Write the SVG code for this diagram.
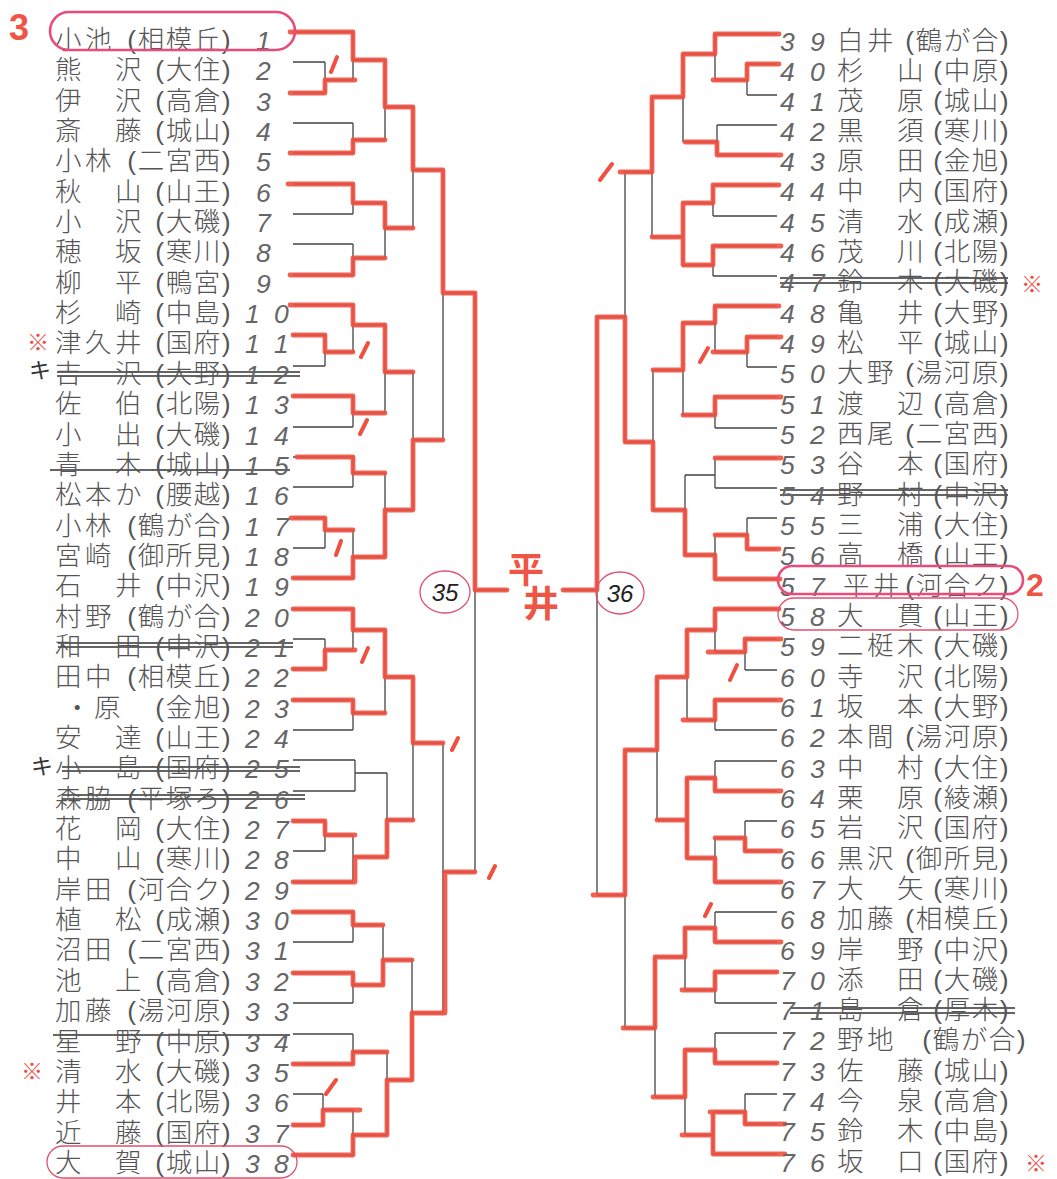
<svg xmlns="http://www.w3.org/2000/svg" width="1057" height="1179" viewBox="0 0 1057 1179">
<style>
.nm{font-family:"Liberation Sans","Noto Sans CJK JP","Noto Sans CJK SC",sans-serif;font-size:26.5px;font-weight:300;fill:#555;letter-spacing:3.5px}
.sc{font-family:"Liberation Sans","Noto Sans CJK JP","Noto Sans CJK SC",sans-serif;font-size:26.5px;font-weight:300;fill:#555;letter-spacing:1.5px;text-anchor:end}
.num{font-family:"Liberation Sans",sans-serif;font-style:italic;font-size:26.5px;fill:#666}
.blk{fill:none;stroke:#444;stroke-width:1.3}
.red{fill:none;stroke:#ef5040;stroke-width:4.8;stroke-linejoin:round;stroke-linecap:round;opacity:0.9}
.tick{fill:none;stroke:#ef5040;stroke-width:4;stroke-linecap:round}
.strike{stroke:#333;stroke-width:1.4}
.ring{fill:none;stroke:#e94b7b;stroke-width:2.6}
.ring2{fill:none;stroke:#e0506e;stroke-width:1.3}
.kome{font-family:"Liberation Sans","Noto Sans CJK JP",sans-serif;font-size:22px;fill:#ee4b3f;text-anchor:middle}
.ki{font-family:"Liberation Sans","Noto Sans CJK JP",sans-serif;font-size:22px;fill:#333;text-anchor:middle}
.hand{font-family:"Liberation Sans","Noto Sans CJK JP",sans-serif;font-weight:bold;fill:#ef5545}
.circ{font-family:"Liberation Sans",sans-serif;font-style:italic;font-size:24px;fill:#222;text-anchor:middle}
</style>
<rect width="1057" height="1179" fill="#fff"/>

<g id="connectors">
<path class="blk" d="M293 32H353M293 62H325M293 93H325M293 123H353M293 153H353M293 184H353M293 214H353M293 244H353M293 275H353M293 305H353M293 335H325M293 366H325M293 396H353M293 427H353M293 457H353M293 487H353M293 518H325M293 548H325M293 578H353M293 609H353M293 639H325M293 669H325M293 700H353M293 730H353M293 760H355M293 791H355M293 821H325M293 851H325M293 882H353M293 912H353M293 942H353M293 973H353M293 1003H353M293 1034H353M293 1064H353M293 1094H323M293 1125H323M293 1155H353
M325 62V93M325 80H353M353 32V80M353 60H385M353 123V153M353 140H385M385 60V140M385 107H413
M353 184V214M353 203H385M353 244V275M353 258H385M385 203V258M385 228H413M413 107V228M413 170H443
M325 335V366M325 352H353M353 305V352M353 325H385M353 396V427M353 413H385M385 325V413M385 372H413
M353 457V487M353 473H385M325 518V548M325 530H353M353 530V578M353 557H385M385 473V557M385 510H413
M413 372V510M413 440H443M443 170V440M443 293H475
M325 639V669M325 650H353M353 609V650M353 630H385M353 700V730M353 713H385M385 630V713M385 677H413
M355 760V791M355 773H387M325 821V851M325 835H353M353 835V882M353 857H387M387 773V857M387 820H413
M413 677V820M413 743H443
M353 912V942M353 925H383M353 973V1003M353 985H383M383 925V985M383 960H412
M353 1034V1064M353 1052H387M323 1094V1125M323 1110H353M353 1110V1155M353 1135H387M387 1052V1135M387 1080H412
M412 960V1080M412 1013H443M443 743V1013M443 872H475M475 293V872M475 590H507"/>
<path class="blk" d="M777 34H715M777 64H747M777 95H747M777 125H717M777 155H717M777 185H713M777 216H713M777 246H713M777 276H713M777 306H715M777 337H747M777 367H747M777 397H715M777 428H715M777 458H715M777 488H715M777 518H747M777 549H747M777 579H715M777 609H715M777 639H745M777 670H745M777 700H715M777 730H715M777 761H715M777 791H715M777 821H745M777 851H745M777 882H715M777 912H715M777 942H715M777 972H715M777 1003H715M777 1033H715M777 1063H715M777 1094H745M777 1124H745M777 1154H713
M747 64V95M747 80H715M715 34V80M715 54H683M717 125V155M717 142H685M683 54V142M683 97H652
M713 185V216M713 203H683M713 246V276M713 265H683M683 203V265M683 237H652M652 97V237M652 172H623
M747 337V367M747 352H715M715 306V352M715 323H683M715 397V428M715 415H683M683 323V415M683 370H653
M715 458V488M715 475H685M747 518V549M747 535H715M715 535V579M715 555H685M685 475V555M685 510H653
M653 370V510M653 442H625M625 172V442M625 317H597
M745 639V670M745 652H715M715 609V652M715 630H687M715 700V730M715 720H687M687 630V720M687 677H657
M715 761V791M715 778H687M745 821V851M745 838H715M715 838V882M715 858H687M687 778V858M687 820H657
M657 677V820M657 750H625
M715 912V942M715 928H685M715 972V1003M715 990H685M685 928V990M685 957H655
M715 1033V1063M715 1050H685M745 1094V1124M745 1112H713M713 1112V1154M713 1135H685M685 1050V1135M685 1097H655
M655 957V1097M655 1028H625M625 750V1028M625 895H597M597 317V895M597 590H563"/>
<path class="red" d="M290 32H353V60H385V107H413V170H443V293H475V590H507
M290 93H325V80H355M290 153H353V140H385M288 184H353V203H385V228H413M290 275H353V258H385
M290 305H353V325H385V372H413M293 335H325V352H353M293 396H353V413H385M297 457H353V473H385
M291 518H325V530H353M293 578H353V557H385V510H413V440H443
M293 609H353V630H385V677H413V743H443M293 669H325V650H355M293 700H353V713H385
M293 821H325V835H355M293 882H355V857H387V820H413
M293 912H353V925H383M293 973H353V985H383V960H412M293 1064H353V1052H387
M293 1125H323V1110H360M293 1155H353V1135H387V1080H412V1013H445V872H475"/>
<path class="red" d="M780 579H715V555H685V510H653V442H625V317H597V590H563
M779 34H715V54H683V97H652V172H620M779 64H747V80H713M781 155H717V142H685
M779 185H713V203H683V265M683 237H652M781 246H713V265H683
M779 306H715V323H683V370H653M781 337H747V352H713M781 397H715V415H683M781 458H715
M779 549H747V535H715
M779 609H715V630H687V677H657V750H625V895H593M781 639H745V652H708M781 700H715V720H683
M781 791H715V778H687V858M687 820H657M781 851H745V838H715M781 882H715V858H687
M781 942H715V928H685V957H655V1028H623M777 972H715V990H682
M777 1063H715V1050H685V1097H653M785 1124H745V1112H710M785 1154H713V1112M713 1135H682"/>
<path class="tick" d="M337 57L331 72M368 343L361 357M367 420L360 434M341 541L336 555M368 648L362 662M458 738L452 750M336 1080L326 1094M495 866L489 878M612 164L600 180M708 348L700 362M737 665L730 680M711 904L705 916"/>
</g>

<g id="strikes">
<path class="strike" d="M57 372H300M57 376H300M50 470H290M58 643H293M58 647H293M62 767H300M62 771H300M62 795H305M62 799H305M53 1035H290M780 278H1008M780 283H1008M780 490H1008M780 495H1008M790 1008H1015M790 1013H1015"/>
</g>

<g id="n1"><text class="nm" x="55" y="49">小池</text><text class="sc" x="232" y="49">(相模丘)</text><text class="num" x="256" y="50">1</text></g>
<g id="n2"><text class="nm" x="55" y="79">熊　沢</text><text class="sc" x="232" y="79">(大住)</text><text class="num" x="256" y="80">2</text></g>
<g id="n3"><text class="nm" x="55" y="110">伊　沢</text><text class="sc" x="232" y="110">(高倉)</text><text class="num" x="256" y="111">3</text></g>
<g id="n4"><text class="nm" x="55" y="140">斎　藤</text><text class="sc" x="232" y="140">(城山)</text><text class="num" x="256" y="141">4</text></g>
<g id="n5"><text class="nm" x="55" y="170">小林</text><text class="sc" x="232" y="170">(二宮西)</text><text class="num" x="256" y="171">5</text></g>
<g id="n6"><text class="nm" x="55" y="201">秋　山</text><text class="sc" x="232" y="201">(山王)</text><text class="num" x="256" y="202">6</text></g>
<g id="n7"><text class="nm" x="55" y="231">小　沢</text><text class="sc" x="232" y="231">(大磯)</text><text class="num" x="256" y="232">7</text></g>
<g id="n8"><text class="nm" x="55" y="261">穂　坂</text><text class="sc" x="232" y="261">(寒川)</text><text class="num" x="256" y="262">8</text></g>
<g id="n9"><text class="nm" x="55" y="292">柳　平</text><text class="sc" x="232" y="292">(鴨宮)</text><text class="num" x="256" y="293">9</text></g>
<g id="n10"><text class="nm" x="55" y="322">杉　崎</text><text class="sc" x="232" y="322">(中島)</text><text class="num" x="245 274" y="323">10</text></g>
<g id="n11"><text class="nm" x="55" y="352">津久井</text><text class="sc" x="232" y="352">(国府)</text><text class="num" x="245 274" y="353">11</text></g>
<g id="n12"><text class="nm" x="55" y="383">吉　沢</text><text class="sc" x="232" y="383">(大野)</text><text class="num" x="245 274" y="384">12</text></g>
<g id="n13"><text class="nm" x="55" y="413">佐　伯</text><text class="sc" x="232" y="413">(北陽)</text><text class="num" x="245 274" y="414">13</text></g>
<g id="n14"><text class="nm" x="55" y="444">小　出</text><text class="sc" x="232" y="444">(大磯)</text><text class="num" x="245 274" y="445">14</text></g>
<g id="n15"><text class="nm" x="55" y="474">青　木</text><text class="sc" x="232" y="474">(城山)</text><text class="num" x="245 274" y="475">15</text></g>
<g id="n16"><text class="nm" x="55" y="504">松本か</text><text class="sc" x="232" y="504">(腰越)</text><text class="num" x="245 274" y="505">16</text></g>
<g id="n17"><text class="nm" x="55" y="535">小林</text><text class="sc" x="232" y="535">(鶴が合)</text><text class="num" x="245 274" y="536">17</text></g>
<g id="n18"><text class="nm" x="55" y="565">宮崎</text><text class="sc" x="232" y="565">(御所見)</text><text class="num" x="245 274" y="566">18</text></g>
<g id="n19"><text class="nm" x="55" y="595">石　井</text><text class="sc" x="232" y="595">(中沢)</text><text class="num" x="245 274" y="596">19</text></g>
<g id="n20"><text class="nm" x="55" y="626">村野</text><text class="sc" x="232" y="626">(鶴が合)</text><text class="num" x="245 274" y="627">20</text></g>
<g id="n21"><text class="nm" x="55" y="656">和　田</text><text class="sc" x="232" y="656">(中沢)</text><text class="num" x="245 274" y="657">21</text></g>
<g id="n22"><text class="nm" x="55" y="686">田中</text><text class="sc" x="232" y="686">(相模丘)</text><text class="num" x="245 274" y="687">22</text></g>
<g id="n23"><text class="nm" x="64" y="717">・原</text><text class="sc" x="232" y="717">(金旭)</text><text class="num" x="245 274" y="718">23</text></g>
<g id="n24"><text class="nm" x="55" y="747">安　達</text><text class="sc" x="232" y="747">(山王)</text><text class="num" x="245 274" y="748">24</text></g>
<g id="n25"><text class="nm" x="55" y="777">小　島</text><text class="sc" x="232" y="777">(国府)</text><text class="num" x="245 274" y="778">25</text></g>
<g id="n26"><text class="nm" x="55" y="808">森脇</text><text class="sc" x="232" y="808">(平塚ろ)</text><text class="num" x="245 274" y="809">26</text></g>
<g id="n27"><text class="nm" x="55" y="838">花　岡</text><text class="sc" x="232" y="838">(大住)</text><text class="num" x="245 274" y="839">27</text></g>
<g id="n28"><text class="nm" x="55" y="868">中　山</text><text class="sc" x="232" y="868">(寒川)</text><text class="num" x="245 274" y="869">28</text></g>
<g id="n29"><text class="nm" x="55" y="899">岸田</text><text class="sc" x="232" y="899">(河合ク)</text><text class="num" x="245 274" y="900">29</text></g>
<g id="n30"><text class="nm" x="55" y="929">植　松</text><text class="sc" x="232" y="929">(成瀬)</text><text class="num" x="245 274" y="930">30</text></g>
<g id="n31"><text class="nm" x="55" y="959">沼田</text><text class="sc" x="232" y="959">(二宮西)</text><text class="num" x="245 274" y="960">31</text></g>
<g id="n32"><text class="nm" x="55" y="990">池　上</text><text class="sc" x="232" y="990">(高倉)</text><text class="num" x="245 274" y="991">32</text></g>
<g id="n33"><text class="nm" x="55" y="1020">加藤</text><text class="sc" x="232" y="1020">(湯河原)</text><text class="num" x="245 274" y="1021">33</text></g>
<g id="n34"><text class="nm" x="55" y="1051">星　野</text><text class="sc" x="232" y="1051">(中原)</text><text class="num" x="245 274" y="1052">34</text></g>
<g id="n35"><text class="nm" x="55" y="1081">清　水</text><text class="sc" x="232" y="1081">(大磯)</text><text class="num" x="245 274" y="1082">35</text></g>
<g id="n36"><text class="nm" x="55" y="1111">井　本</text><text class="sc" x="232" y="1111">(北陽)</text><text class="num" x="245 274" y="1112">36</text></g>
<g id="n37"><text class="nm" x="55" y="1142">近　藤</text><text class="sc" x="232" y="1142">(国府)</text><text class="num" x="245 274" y="1143">37</text></g>
<g id="n38"><text class="nm" x="55" y="1172">大　賀</text><text class="sc" x="232" y="1172">(城山)</text><text class="num" x="245 274" y="1173">38</text></g>

<g id="n39"><text class="num" x="780 810" y="51">39</text><text class="nm" x="837" y="50">白井</text><text class="sc" x="1010" y="50">(鶴が合)</text></g>
<g id="n40"><text class="num" x="780 810" y="81">40</text><text class="nm" x="837" y="80">杉　山</text><text class="sc" x="1010" y="80">(中原)</text></g>
<g id="n41"><text class="num" x="780 810" y="111">41</text><text class="nm" x="837" y="110">茂　原</text><text class="sc" x="1010" y="110">(城山)</text></g>
<g id="n42"><text class="num" x="780 810" y="141">42</text><text class="nm" x="837" y="140">黒　須</text><text class="sc" x="1010" y="140">(寒川)</text></g>
<g id="n43"><text class="num" x="780 810" y="171">43</text><text class="nm" x="837" y="170">原　田</text><text class="sc" x="1010" y="170">(金旭)</text></g>
<g id="n44"><text class="num" x="780 810" y="201">44</text><text class="nm" x="837" y="200">中　内</text><text class="sc" x="1010" y="200">(国府)</text></g>
<g id="n45"><text class="num" x="780 810" y="232">45</text><text class="nm" x="837" y="231">清　水</text><text class="sc" x="1010" y="231">(成瀬)</text></g>
<g id="n46"><text class="num" x="780 810" y="262">46</text><text class="nm" x="837" y="261">茂　川</text><text class="sc" x="1010" y="261">(北陽)</text></g>
<g id="n47"><text class="num" x="780 810" y="292">47</text><text class="nm" x="837" y="291">鈴　木</text><text class="sc" x="1010" y="291">(大磯)</text></g>
<g id="n48"><text class="num" x="780 810" y="323">48</text><text class="nm" x="837" y="322">亀　井</text><text class="sc" x="1010" y="322">(大野)</text></g>
<g id="n49"><text class="num" x="780 810" y="353">49</text><text class="nm" x="837" y="352">松　平</text><text class="sc" x="1010" y="352">(城山)</text></g>
<g id="n50"><text class="num" x="780 810" y="383">50</text><text class="nm" x="837" y="382">大野</text><text class="sc" x="1010" y="382">(湯河原)</text></g>
<g id="n51"><text class="num" x="780 810" y="414">51</text><text class="nm" x="837" y="413">渡　辺</text><text class="sc" x="1010" y="413">(高倉)</text></g>
<g id="n52"><text class="num" x="780 810" y="444">52</text><text class="nm" x="837" y="443">西尾</text><text class="sc" x="1010" y="443">(二宮西)</text></g>
<g id="n53"><text class="num" x="780 810" y="474">53</text><text class="nm" x="837" y="473">谷　本</text><text class="sc" x="1010" y="473">(国府)</text></g>
<g id="n54"><text class="num" x="780 810" y="505">54</text><text class="nm" x="837" y="504">野　村</text><text class="sc" x="1010" y="504">(中沢)</text></g>
<g id="n55"><text class="num" x="780 810" y="535">55</text><text class="nm" x="837" y="534">三　浦</text><text class="sc" x="1010" y="534">(大住)</text></g>
<g id="n56"><text class="num" x="780 810" y="565">56</text><text class="nm" x="837" y="564">高　橋</text><text class="sc" x="1010" y="564">(山王)</text></g>
<g id="n57"><text class="num" x="780 810" y="596">57</text><text class="nm" x="843" y="595">平井</text><text class="sc" x="1010" y="595">(河合ク)</text></g>
<g id="n58"><text class="num" x="780 810" y="626">58</text><text class="nm" x="837" y="625">大　貫</text><text class="sc" x="1010" y="625">(山王)</text></g>
<g id="n59"><text class="num" x="780 810" y="656">59</text><text class="nm" x="837" y="655">二梃木</text><text class="sc" x="1010" y="655">(大磯)</text></g>
<g id="n60"><text class="num" x="780 810" y="687">60</text><text class="nm" x="837" y="686">寺　沢</text><text class="sc" x="1010" y="686">(北陽)</text></g>
<g id="n61"><text class="num" x="780 810" y="717">61</text><text class="nm" x="837" y="716">坂　本</text><text class="sc" x="1010" y="716">(大野)</text></g>
<g id="n62"><text class="num" x="780 810" y="747">62</text><text class="nm" x="837" y="746">本間</text><text class="sc" x="1010" y="746">(湯河原)</text></g>
<g id="n63"><text class="num" x="780 810" y="778">63</text><text class="nm" x="837" y="777">中　村</text><text class="sc" x="1010" y="777">(大住)</text></g>
<g id="n64"><text class="num" x="780 810" y="808">64</text><text class="nm" x="837" y="807">栗　原</text><text class="sc" x="1010" y="807">(綾瀬)</text></g>
<g id="n65"><text class="num" x="780 810" y="838">65</text><text class="nm" x="837" y="837">岩　沢</text><text class="sc" x="1010" y="837">(国府)</text></g>
<g id="n66"><text class="num" x="780 810" y="869">66</text><text class="nm" x="837" y="868">黒沢</text><text class="sc" x="1010" y="868">(御所見)</text></g>
<g id="n67"><text class="num" x="780 810" y="899">67</text><text class="nm" x="837" y="898">大　矢</text><text class="sc" x="1010" y="898">(寒川)</text></g>
<g id="n68"><text class="num" x="780 810" y="929">68</text><text class="nm" x="837" y="928">加藤</text><text class="sc" x="1010" y="928">(相模丘)</text></g>
<g id="n69"><text class="num" x="780 810" y="960">69</text><text class="nm" x="837" y="959">岸　野</text><text class="sc" x="1010" y="959">(中沢)</text></g>
<g id="n70"><text class="num" x="780 810" y="990">70</text><text class="nm" x="837" y="989">添　田</text><text class="sc" x="1010" y="989">(大磯)</text></g>
<g id="n71"><text class="num" x="780 810" y="1020">71</text><text class="nm" x="837" y="1019">島　倉</text><text class="sc" x="1010" y="1019">(厚木)</text></g>
<g id="n72"><text class="num" x="780 810" y="1050">72</text><text class="nm" x="837" y="1049">野地</text><text class="sc" x="1027" y="1049">(鶴が合)</text></g>
<g id="n73"><text class="num" x="780 810" y="1081">73</text><text class="nm" x="837" y="1080">佐　藤</text><text class="sc" x="1010" y="1080">(城山)</text></g>
<g id="n74"><text class="num" x="780 810" y="1111">74</text><text class="nm" x="837" y="1110">今　泉</text><text class="sc" x="1010" y="1110">(高倉)</text></g>
<g id="n75"><text class="num" x="780 810" y="1141">75</text><text class="nm" x="837" y="1140">鈴　木</text><text class="sc" x="1010" y="1140">(中島)</text></g>
<g id="n76"><text class="num" x="780 810" y="1172">76</text><text class="nm" x="837" y="1171">坂　口</text><text class="sc" x="1010" y="1171">(国府)</text></g>

<g id="center">
<ellipse class="ring2" cx="445" cy="592" rx="25" ry="21"/>
<text class="circ" x="445" y="601">35</text>
<ellipse class="ring2" cx="620" cy="593" rx="24" ry="21"/>
<text class="circ" x="620" y="602">36</text>
<text class="hand" x="508" y="583" font-size="36">平</text>
<text class="hand" x="523" y="617" font-size="36">井</text>
</g>

<g id="annotations">
<text class="hand" x="9" y="40" font-size="36">3</text>
<rect class="ring" x="50" y="12" width="245" height="38" rx="19"/>
<rect class="ring2" x="47" y="1146" width="250" height="32" rx="16"/>
<rect class="ring" x="778" y="566" width="245" height="28" rx="14"/>
<rect class="ring2" x="778" y="598" width="240" height="32" rx="16"/>
<text class="hand" x="1026" y="596" font-size="32">2</text>
<text class="kome" x="38" y="350">※</text>
<text class="kome" x="32" y="1079">※</text>
<text class="kome" x="1032" y="292">※</text>
<text class="kome" x="1036" y="1171">※</text>
<text class="ki" x="40" y="378">キ</text>
<text class="ki" x="42" y="774">キ</text>
</g>
</svg>
